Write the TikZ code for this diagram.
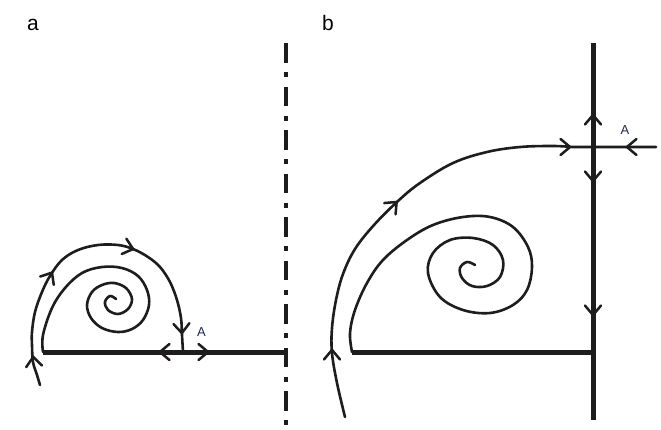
\documentclass[tikz,border=0pt]{standalone}
\usepackage{fontspec}
\setmainfont{Liberation Sans}
\usetikzlibrary{arrows.meta}
\definecolor{labelnavy}{RGB}{30,40,80}
\definecolor{ink}{RGB}{30,28,28}
\tikzset{
  traj/.style={draw=ink, line width=2.6pt, line cap=round, line join=round},
  wall/.style={draw=ink, line width=5pt},
  axisdd/.style={draw=ink, line width=4pt, dash pattern=on 19.5pt off 9.5pt on 5pt off 9.5pt},
  barb/.style={draw=ink, line width=2.5pt, -{Straight Barb[length=9.5pt,width=16pt,line cap=round]}},
  panellabel/.style={font=\fontsize{21}{24}\selectfont, anchor=base, inner sep=0pt},
  ptlabel/.style={font=\fontsize{13}{15}\selectfont, text=labelnavy, inner sep=0pt}
}
\begin{document}
\begin{tikzpicture}[x=1pt,y=-1pt]
\useasboundingbox (0,0) rectangle (661,429);

% ---------- panel a ----------
\node[panellabel] (la) at (33,30) {a};
\coordinate (Aa) at (183,352);
\coordinate (wallaL) at (43,352);
\coordinate (wallaR) at (286,352);
\coordinate (symT) at (286,43);
\coordinate (symB) at (286,425);

\draw[axisdd] (symT) -- (symB);
\draw[wall] (wallaL) -- (wallaR);

% inner spiral (a)
\draw[traj] plot[smooth, tension=0.6] coordinates {
 (43,352) (43,335) (52,308) (65,288) (82,273) (102,267) (122,268) (138,276)
 (147,290) (149,305) (143,320) (132,329) (118,332) (102,328) (91,318) (87,305)
 (92,292) (102,285) (114,283) (126,288) (132,299) (128,309) (118,314) (108,310)
 (105,302) (110,296) (116,299)};

% outer trajectory (a)
\draw[traj] plot[smooth, tension=0.6] coordinates {
 (40,385) (37,375) (33,362) (32,345) (32,332) (35,312) (42,292) (50,276)
 (62,260) (78,250) (98,245) (118,245) (133,249) (148,257) (160,267) (170,282)
 (177,300) (181,318) (182,335) (183,352)};

% arrowheads (a)
\draw[barb] (162,352) -- (158,352);
\draw[barb] (206,352) -- (210,352);
\draw[barb] (181.8,331) -- (182,335);
\draw[barb] (131,248.4) -- (135,249.6);
\draw[barb] (50.9,274.4) -- (53,271);
\draw[barb] (33.4,359) -- (33,355);

\node[ptlabel] (pa) at (201.5,332.5) {A};

% ---------- panel b ----------
\node[panellabel] (lb) at (328,30) {b};
\coordinate (vbT) at (593,43);
\coordinate (vbB) at (593,420);
\coordinate (wallbL) at (352,352);
\coordinate (wallbR) at (593,352);
\coordinate (Ab) at (593,147);
\coordinate (hbR) at (656,147);

\draw[wall] (vbT) -- (vbB);
\draw[wall] (wallbL) -- (wallbR);

% inner spiral (b)
\draw[traj] plot[smooth, tension=0.6] coordinates {
 (352,352) (350,333) (355,310) (367,283) (383,260) (407,240) (433,225) (463,217)
 (490,217) (513,227) (528,247) (532,267) (527,290) (513,305) (490,313) (463,310)
 (440,297) (428,273) (433,253) (450,240) (473,238) (493,245) (503,260) (500,277)
 (487,286) (472,286) (462,278) (460,268) (467,262) (475,265)};

% outer trajectory (b)
\draw[traj] plot[smooth, tension=0.6] coordinates {
 (345,417) (337,383) (332,353) (332,328) (336,300) (343,274) (355,249) (374,225)
 (398,201) (420,183) (453,163) (487,152) (520,147) (553,146) (572,147)} -- (Ab) -- (hbR);

% arrowheads (b)
\draw[barb] (593,117) -- (593,113);
\draw[barb] (593,179) -- (593,183);
\draw[barb] (593,313) -- (593,317);
\draw[barb] (568,147) -- (572,147);
\draw[barb] (629,147) -- (625,147);
\draw[barb] (395.1,203.5) -- (398,200.6);
\draw[barb] (332,352) -- (332,348);

\node[ptlabel] (pb) at (625,130) {A};
\end{tikzpicture}
\end{document}
